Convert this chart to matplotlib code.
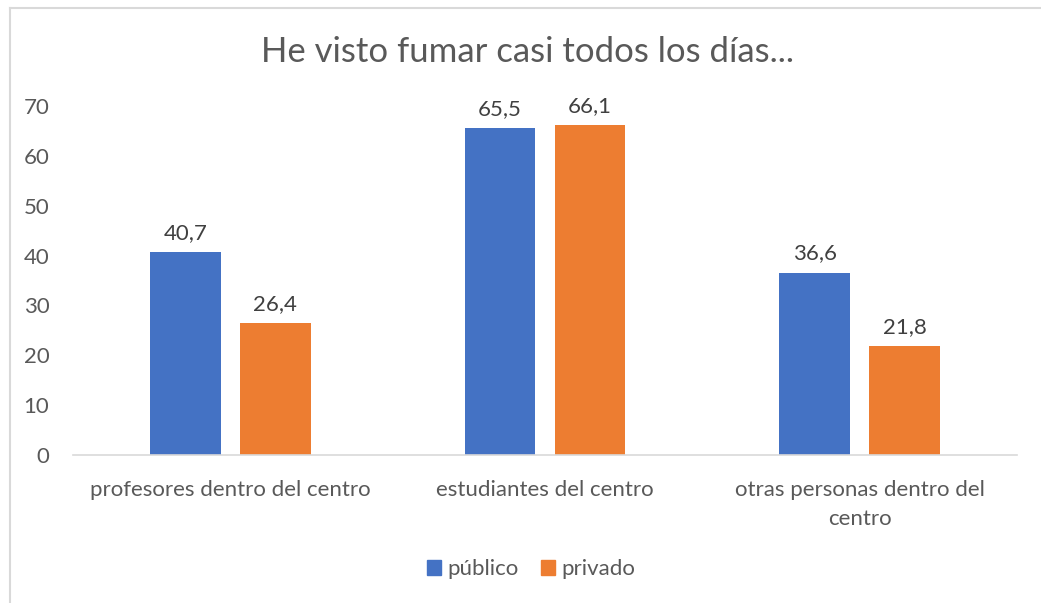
import matplotlib
matplotlib.use("Agg")
import matplotlib.pyplot as plt
import numpy as np
from matplotlib.lines import Line2D
from matplotlib.patches import Patch

categories = ["profesores dentro del centro", "estudiantes del centro",
              "otras personas dentro del\ncentro"]
publico = [40.7, 65.5, 36.6]
privado = [26.4, 66.1, 21.8]
series_names = ["público", "privado"]
yticks = [0, 10, 20, 30, 40, 50, 60, 70]

BLUE = "#4472C4"
ORANGE = "#ED7D31"
GREY = "#595959"
LABEL = "#404040"
FS = 16

plt.rcParams["font.family"] = ["Lato", "DejaVu Sans"]

fig = plt.figure(figsize=(10.41, 6.03), dpi=100)
ax = fig.add_axes([0.0701, 0.2454, 0.9069, 0.5788])

x = np.arange(len(categories))
width = 0.225
offset = 0.143
b1 = ax.bar(x - offset, publico, width, color=BLUE)
b2 = ax.bar(x + offset, privado, width, color=ORANGE)

for bars, vals in ((b1, publico), (b2, privado)):
    for rect, v in zip(bars, vals):
        ax.annotate(f"{v:.1f}".replace(".", ","),
                    (rect.get_x() + rect.get_width() / 2, v),
                    xytext=(0, 14), textcoords="offset points",
                    ha="center", va="center", fontsize=FS, color=LABEL)

ax.set_xlim(-0.5, 2.5)
ax.set_ylim(0, 70)
ax.set_yticks(yticks)
ax.set_xticks(x)
ax.set_xticklabels(categories, linespacing=1.55)
ax.tick_params(axis="y", length=0, pad=17, labelsize=FS, labelcolor=GREY)
ax.tick_params(axis="x", length=0, pad=18, labelsize=FS, labelcolor=GREY)
for side in ("top", "right", "left"):
    ax.spines[side].set_visible(False)
ax.spines["bottom"].set_color("#D9D9D9")
ax.spines["bottom"].set_linewidth(1.2)

fig.text(0.507, 0.914, "He visto fumar casi todos los días...",
         ha="center", va="center", fontsize=25, color=GREY)

handles = [Patch(color=BLUE), Patch(color=ORANGE)]
fig.legend(handles, series_names, loc="center", bbox_to_anchor=(0.51, 0.056),
           ncol=2, frameon=False, fontsize=FS, labelcolor=GREY,
           handlelength=0.63, handleheight=0.63, handletextpad=0.3,
           columnspacing=1.0)

# chart area border (only top and left are inside the crop)
fig.add_artist(Line2D([0.0092, 1.0], [0.987, 0.987], color="#D9D9D9", lw=1.5))
fig.add_artist(Line2D([0.0092, 0.0092], [0.0, 0.987], color="#D9D9D9", lw=1.5))

fig.savefig("out.png", dpi=100)
